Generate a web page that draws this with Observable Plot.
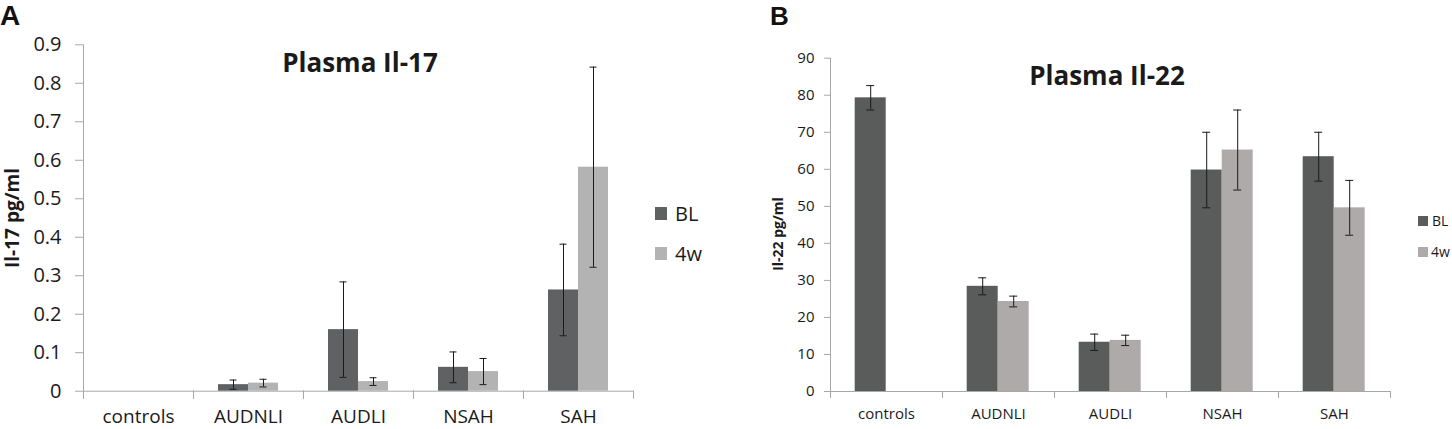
<!DOCTYPE html>
<html><head><meta charset="utf-8">
<script src="https://cdn.jsdelivr.net/npm/d3@7"></script>
<script src="https://cdn.jsdelivr.net/npm/@observablehq/plot@0.6"></script>
<style>
body{margin:0;background:#fff;font-family:"Open Sans",sans-serif;}
#wrap{position:relative;width:1452px;height:429px;overflow:hidden;background:#fff;}
.abs{position:absolute;white-space:nowrap;color:#1a1a1a;line-height:1;}
.b{font-weight:700;}
.letter{position:absolute;white-space:nowrap;color:#111;font-family:"Liberation Sans",Arial,sans-serif;font-weight:700;line-height:normal;}
.sq{position:absolute;}
</style></head><body><div id="wrap"></div>
<script>
const categories = ["controls", "AUDNLI", "AUDLI", "NSAH", "SAH"];
const seriesNames = ["BL", "4w"];

// Panel A: Plasma Il-17 (pg/ml)
const il17BL    = [0, 0.017, 0.160, 0.062, 0.263];
const il17BLerr = [null, 0.012, 0.124, 0.040, 0.119];
const il17W4    = [0, 0.021, 0.025, 0.051, 0.582];
const il17W4err = [null, 0.010, 0.010, 0.034, 0.260];
const il17Ticks = [0, 0.1, 0.2, 0.3, 0.4, 0.5, 0.6, 0.7, 0.8, 0.9];

// Panel B: Plasma Il-22 (pg/ml)
const il22BL    = [79.3, 28.4, 13.3, 59.8, 63.4];
const il22BLerr = [3.3, 2.3, 2.2, 10.2, 6.6];
const il22W4    = [null, 24.3, 13.8, 65.2, 49.6];
const il22W4err = [null, 1.45, 1.4, 10.8, 7.4];
const il22Ticks = [0, 10, 20, 30, 40, 50, 60, 70, 80, 90];

function rows(bl, blErr, w4, w4Err) {
  const out = [];
  categories.forEach((c, i) => {
    [[bl, blErr, "BL"], [w4, w4Err, "4w"]].forEach(([v, e, s]) => {
      if (v[i] == null) return;
      out.push({category: c, series: s, value: v[i],
        lo: e[i] == null ? null : v[i] - e[i],
        hi: e[i] == null ? null : v[i] + e[i]});
    });
  });
  return out;
}

const gray = "#a8a8a8";
const ink = "#1a1a1a";

function panel(cfg) {
  const plotH = cfg.height - cfg.marginTop - cfg.marginBottom;
  const data = cfg.data;
  return Plot.plot({
    width: cfg.width, height: cfg.height,
    marginTop: cfg.marginTop, marginRight: cfg.marginRight,
    marginBottom: cfg.marginBottom, marginLeft: cfg.marginLeft,
    style: {fontFamily: "'Open Sans', sans-serif", color: ink, background: "transparent", overflow: "visible"},
    fx: {domain: categories, padding: 0, label: null},
    x: {domain: seriesNames, paddingInner: 0, paddingOuter: 0.775, axis: null},
    y: {domain: cfg.yDomain, label: null},
    color: {domain: seriesNames, range: cfg.colors},
    marks: [
      Plot.frame({anchor: "left", facetAnchor: "left", stroke: gray, insetBottom: -cfg.catTick}),
      Plot.frame({anchor: "bottom", stroke: gray}),
      Plot.frame({anchor: "left", stroke: gray, insetTop: plotH, insetBottom: -cfg.catTick}),
      Plot.frame({anchor: "right", stroke: gray, insetTop: plotH, insetBottom: -cfg.catTick}),
      Plot.axisY(cfg.ticks, {tickSize: cfg.yTick, tickFormat: () => "", color: gray, label: null}),
      Plot.axisY(cfg.ticks, {tickSize: 0, tickPadding: cfg.yPad, tickFormat: (d) => String(d), fontSize: cfg.tickFont, color: ink, label: null}),
      Plot.axisFx({anchor: "bottom", tickSize: 0, tickPadding: cfg.xPad, fontSize: cfg.xFont, color: ink, label: null}),
      Plot.barY(data, {fx: "category", x: "series", y: "value", fill: "series"}),
      Plot.ruleX(data, {fx: "category", x: "series", y1: "lo", y2: "hi", stroke: ink, strokeWidth: 1}),
      Plot.tickY(data, {fx: "category", x: "series", y: "hi", stroke: ink, strokeWidth: 1, insetLeft: 11.5, insetRight: 11.5}),
      Plot.tickY(data, {fx: "category", x: "series", y: "lo", stroke: ink, strokeWidth: 1, insetLeft: 11.5, insetRight: 11.5})
    ]
  });
}

const wrap = document.getElementById("wrap");

function place(el, left, top) {
  const d = document.createElement("div");
  d.style.position = "absolute"; d.style.left = left + "px"; d.style.top = top + "px";
  d.appendChild(el); wrap.appendChild(d);
}

const colorsA = ["#606163", "#b3b3b3"];
const colorsB = ["#5a5b5b", "#aeaaaa"];

place(panel({
  data: rows(il17BL, il17BLerr, il17W4, il17W4err),
  width: 730, height: 429, marginTop: 44.3, marginRight: 97, marginBottom: 38.3, marginLeft: 82,
  yDomain: [0, 0.9], ticks: il17Ticks, yTick: 8, yPad: 22, xPad: 18, tickFont: 20, xFont: 19, catTick: 7,
  colors: colorsA
}), 0, 0);

place(panel({
  data: rows(il22BL, il22BLerr, il22W4, il22W4err),
  width: 712, height: 429, marginTop: 57.7, marginRight: 61.3, marginBottom: 38, marginLeft: 88.3,
  yDomain: [0, 90], ticks: il22Ticks, yTick: 6, yPad: 16, xPad: 17, tickFont: 15, xFont: 15, catTick: 6,
  colors: colorsB
}), 740, 0);

function text(str, left, top, size, opts = {}) {
  const d = document.createElement("div");
  d.className = opts.cls || ("abs" + (opts.bold ? " b" : ""));
  d.textContent = str;
  d.style.left = left + "px"; d.style.top = top + "px"; d.style.fontSize = size + "px";
  if (opts.transform) d.style.transform = opts.transform;
  wrap.appendChild(d);
  return d;
}
function square(left, top, w, h, color) {
  const d = document.createElement("div");
  d.className = "sq";
  Object.assign(d.style, {left: left + "px", top: top + "px", width: w + "px", height: h + "px", background: color});
  wrap.appendChild(d);
}

// Panel letters and titles
text("A", 0, 0, 28, {cls: "letter"});
text("B", 770, 1, 26, {cls: "letter"});
text("Plasma Il-17", 360, 48.5, 26, {bold: true, transform: "translateX(-50%)"});
text("Plasma Il-22", 1107, 62, 26, {bold: true, transform: "translateX(-50%)"});

// Y axis titles
text("Il-17 pg/ml", 12, 218, 19, {bold: true, transform: "translate(-50%,-50%) rotate(-90deg)"});
text("Il-22 pg/ml", 778, 234, 14, {bold: true, transform: "translate(-50%,-50%) rotate(-90deg)"});

// Legends
square(655, 207, 12, 13, colorsA[0]);
text(seriesNames[0], 675, 203.5, 20);
square(655, 247, 12, 13, colorsA[1]);
text(seriesNames[1], 675, 243.5, 20);

square(1418, 216, 10, 10, colorsB[0]);
text(seriesNames[0], 1432, 213.5, 14);
square(1418, 247, 10, 10, colorsB[1]);
text(seriesNames[1], 1431, 244.5, 14);
</script>
</body></html>
